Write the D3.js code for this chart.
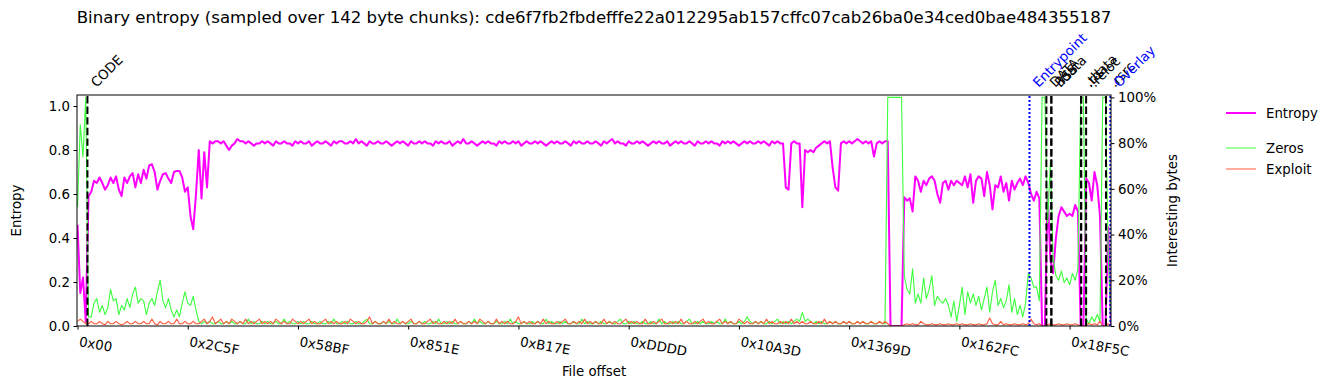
<!DOCTYPE html>
<html>
<head>
<meta charset="utf-8">
<script src="https://cdn.jsdelivr.net/npm/d3@7"></script>
<style>
  body { margin: 0; background: #fff; }
  text { font-family: "DejaVu Sans", sans-serif; }
</style>
</head>
<body>
<div id="container"></div>
<script>
/* CONSTANTS AND GLOBALS */
const width = 1335,
    height = 390,
    plotLeft = 77,
    plotRight = 1111,
    plotTop = 95,
    plotBottom = 326;

/* DATA */
const title = "Binary entropy (sampled over 142 byte chunks): cde6f7fb2fbdefffe22a012295ab157cffc07cab26ba0e34ced0bae484355187"
const fileEnd = 106500
const chunkStep = 284   // one point every two 142 byte chunks

const entropy = [
    .46, .15, .22, .02,
    .59, .61, .66, .65, .675, .65, .62, .64, .675, .65, .68, .62, .59, .675, .65, .68, .695, .63, .69, .65,
    .71, .67, .73, .735, .70, .62, .66, .69, .695, .67, .65, .70, .705, .705, .675, .61, .63, .50, .44, .60, .80, .58, .79, .63,
    .84, .83, .84, .84, .83, .84, .82, .80, .82, .83, .85, .84, .84, .83, .84, .83, .82, .83, .83, .84,
    .83, .84, .83, .82, .84, .83, .83, .84, .83, .83, .82, .84, .83, .84, .83, .83, .84, .82, .83, .84,
    .83, .83, .84, .83, .82, .84, .83, .84, .84, .83, .83, .84, .83, .85, .83, .84, .83, .82, .84, .83,
    .83, .84, .83, .83, .84, .83, .82, .83, .84, .83, .84, .83, .82, .84, .83, .83, .84, .83, .84, .83,
    .83, .82, .84, .83, .84, .83, .83, .84, .82, .83, .84, .83, .85, .83, .83, .84, .83, .82, .83, .84,
    .83, .84, .83, .83, .82, .84, .83, .84, .83, .83, .84, .83, .84, .82, .83, .84, .83, .83, .84, .83,
    .84, .83, .82, .83, .84, .83, .84, .83, .83, .84, .83, .82, .84, .83, .84, .83, .83, .84, .83, .83,
    .84, .83, .82, .84, .83, .84, .85, .83, .84, .83, .83, .82, .84, .83, .83, .84, .83, .84, .83, .82,
    .83, .84, .83, .84, .83, .83, .84, .82, .83, .84, .83, .84, .83, .83, .84, .83, .82, .84, .83, .83,
    .84, .83, .84, .83, .83, .82, .84, .83, .84, .83, .84, .83, .82, .83, .84, .83, .84, .83, .83, .84,
    .83, .84, .83, .82, .84, .83, .84, .83, .83, .63, .62, .83, .84, .83, .83, .54, .80, .79, .80, .79,
    .81, .82, .83, .84, .83, .84, .72, .63, .615, .83, .84, .83, .84, .83, .84, .85, .84, .83, .84, .83,
    .84, .77, .83, .84, .83, .84, .84, 0, 0, 0, 0, 0,
    .585, .57, .58, .52, .68, .66, .61, .66, .64, .67, .68, .66, .60, .56, .65, .66, .62, .66, .64, .66,
    .65, .64, .68, .63, .69, .56, .66, .68, .67, .59, .70, .64, .53, .64, .63, .68, .61, .65, .57, .66,
    .62, .65, .67, .64, .68, .65,
    .60, .57, .61, .58, 0, 0, .61, .30, .24, .40, .50, .54, .52, .50, .51, .50, .55, .52, 0, 0,
    .67, .65, .57, .70, .64, .50, 0, 0, .45, 0
]

const zeros = [
    .52, .88, .74, 1,
    .04, .04, .10, .12, .06, .09, .05, .08, .16, .11, .12, .05, .09, .07, .12, .08, .14, .17, .10, .12,
    .11, .05, .10, .12, .09, .15, .20, .11, .08, .12, .07, .04, .07, .04, .10, .15, .10, .09, .13, .07, .02, .01, .02, .01,
    .02, .01, .01, .02, .01, .01, .02, .01, .02, .01, .01, .02, .01, .01, .03, .01, .02, .01, .01, .02,
    .01, .02, .01, .01, .02, .01, .01, .03, .01, .02, .01, .01, .02, .01, .02, .01, .01, .02, .01, .01,
    .02, .01, .01, .02, .01, .03, .01, .01, .02, .01, .02, .01, .01, .02, .01, .01, .02, .03, .01, .01,
    .02, .01, .01, .02, .01, .02, .01, .01, .03, .01, .02, .01, .01, .02, .01, .01, .02, .01, .02, .01,
    .01, .02, .01, .03, .01, .01, .02, .01, .02, .01, .01, .02, .01, .01, .02, .01, .03, .01, .02, .01,
    .01, .02, .01, .01, .02, .01, .01, .02, .01, .03, .01, .02, .01, .01, .02, .01, .01, .02, .01, .02,
    .01, .01, .03, .01, .02, .01, .01, .02, .01, .02, .01, .01, .02, .01, .01, .03, .01, .02, .01, .01,
    .02, .01, .02, .01, .01, .02, .01, .01, .02, .03, .01, .01, .02, .01, .02, .01, .01, .02, .01, .01,
    .02, .01, .01, .03, .01, .02, .01, .01, .02, .01, .02, .01, .01, .02, .03, .01, .01, .02, .01, .02,
    .01, .01, .02, .01, .02, .01, .01, .03, .01, .02, .01, .01, .02, .01, .02, .04, .02, .01, .02, .01,
    .02, .01, .01, .02, .01, .02, .03, .01, .02, .01, .02, .01, .02, .03, .02, .06, .02, .03, .02, .01,
    .02, .01, .02, .01, .01, .02, .01, .02, .01, .01, .02, .01, .02, .01, .01, .02, .01, .02, .01, .01,
    .02, .01, .01, .02, .01, .01, 1, 1, 1, 1, 1, 1,
    .22, .16, .14, .25, .10, .14, .10, .21, .12, .16, .22, .09, .13, .11, .10, .12, .09, .04, .11, .02,
    .09, .17, .05, .15, .10, .14, .09, .13, .07, .12, .17, .06, .15, .20, .09, .12, .08, .11, .18, .06,
    .12, .05, .09, .04, .10, .23,
    .21, .17, .17, .11, 1, 1, .45, .72, .30, .22, .20, .24, .19, .21, .18, .23, .20, .25, 1, 1,
    .03, .01, .04, .02, .05, .02, 1, 1, .30, .05
]

const exploit = [
    .02, .03, .02, .01,
    .01, .02, .01, .01, .02, .01, .005, .02, .01, .01, .02, .01, .005, .01, .02, .01, .01, .02, .01, .01,
    .02, .01, .01, .03, .01, .005, .02, .01, .01, .02, .01, .01, .03, .01, .01, .02, .01, .01, .02, .01, .01, .02, .03, .01,
    .02, .04, .01, .02, .03, .01, .02, .01, .03, .02, .01, .02, .01, .03, .01, .02, .01, .02, .03, .01,
    .02, .01, .02, .01, .03, .02, .01, .02, .01, .01, .03, .02, .01, .02, .01, .02, .03, .01, .02, .01,
    .01, .02, .03, .01, .02, .01, .02, .01, .01, .02, .01, .03, .02, .01, .02, .01, .01, .02, .04, .01,
    .02, .01, .01, .02, .01, .03, .01, .02, .01, .01, .02, .01, .02, .03, .01, .01, .02, .01, .01, .02,
    .03, .01, .02, .01, .01, .02, .01, .02, .01, .03, .01, .02, .01, .01, .02, .01, .02, .01, .03, .02,
    .01, .02, .01, .01, .03, .01, .02, .01, .02, .01, .01, .02, .04, .01, .02, .01, .02, .01, .01, .02,
    .01, .03, .01, .02, .01, .01, .02, .01, .02, .03, .01, .01, .02, .01, .02, .01, .03, .01, .02, .01,
    .02, .01, .01, .03, .01, .02, .01, .02, .01, .01, .02, .03, .01, .02, .01, .02, .01, .01, .03, .01,
    .01, .02, .01, .02, .03, .01, .01, .02, .01, .02, .01, .03, .01, .02, .01, .01, .02, .01, .02, .03,
    .01, .02, .01, .01, .02, .03, .01, .02, .01, .02, .01, .01, .03, .02, .01, .02, .01, .01, .02, .01,
    .02, .01, .03, .01, .02, .01, .01, .02, .01, .02, .01, .03, .01, .02, .01, .02, .01, .01, .02, .01,
    .01, .02, .01, .03, .01, .02, .01, .02, .01, .01, .02, .01, .02, .01, .01, .02, .01, .02, .01, .01,
    .02, .01, .01, .02, .01, .02, .01, 0, 0, 0, 0, 0,
    .005, .01, .005, .01, .005, .005, .02, .01, .005, .005, .01, .005, .005, .01, .005, .005, .01, .005, .005, .01,
    .005, .01, .005, .005, .01, .005, .005, .01, .005, .005, .01, .035, .01, .005, .005, .02, .005, .01, .005, .005,
    .01, .005, .005, .01, .005, .01,
    .03, .01, .005, .01, 0, 0, .005, .01, .005, .005, .01, .005, .005, .01, .005, .005, .01, .005, 0, 0,
    .005, .01, .005, .01, .005, .02, 0, 0, .01, 0
]

// section starts (dashed black) and markers (dotted blue)
const sectionNames = ["CODE", "DATA", "BSS", ".idata", ".tls", ".rdata", ".reloc", ".rsrc"]
const sectionOffsets = [0x400, 0x18600, 0x18800, 0x18800, 0x19400, 0x19400, 0x19600, 0x19E00]
const markerNames = ["Entrypoint", "Overlay"]
const markerOffsets = [0x17F34, 0x19FC0]

const offsetTicks = [0x0, 0x2C5F, 0x58BF, 0x851E, 0xB17E, 0xDDDD, 0x10A3D, 0x1369D, 0x162FC, 0x18F5C]
const entropyTicks = [0, 0.2, 0.4, 0.6, 0.8, 1.0]
const percentTicks = [0, 0.2, 0.4, 0.6, 0.8, 1.0]

const legendNames = ["Entropy", "Zeros", "Exploit"]

/* COLORS */
const entropyColor = "#ff00ff",
    zerosColor = "#3cff3c",
    exploitColor = "#ff5a3c";

/* SVG */
const svg = d3.select("#container")
    .append("svg")
    .attr("width", width)
    .attr("height", height)
    .style("background-color", "white")

svg.append("defs").append("clipPath")
    .attr("id", "plotclip")
    .append("rect")
    .attr("x", plotLeft)
    .attr("y", plotTop)
    .attr("width", plotRight - plotLeft)
    .attr("height", plotBottom - plotTop)

// SCALES
const xScale = d3.scaleLinear()
    .domain([0, fileEnd])
    .range([plotLeft + 0.5, plotRight])

const yScale = d3.scaleLinear()
    .domain([0, 1.05])
    .range([plotBottom, plotTop])

const y2Scale = d3.scaleLinear()
    .domain([0, 1.0105])
    .range([plotBottom, plotTop])

// LINES
const plot = svg.append("g").attr("clip-path", "url(#plotclip)")

const entropyLine = d3.line()
    .x((d, i) => xScale(i * chunkStep))
    .y(d => yScale(d))

const rightLine = d3.line()
    .x((d, i) => xScale(i * chunkStep))
    .y(d => y2Scale(d))

plot.append("path")
    .datum(entropy)
    .attr("d", entropyLine)
    .attr("fill", "none")
    .attr("stroke", entropyColor)
    .attr("stroke-width", 2)
    .attr("stroke-linejoin", "round")

plot.append("path")
    .datum(zeros)
    .attr("d", rightLine)
    .attr("fill", "none")
    .attr("stroke", zerosColor)
    .attr("stroke-width", 1.1)
    .attr("stroke-linejoin", "round")

plot.append("path")
    .datum(exploit)
    .attr("d", rightLine)
    .attr("fill", "none")
    .attr("stroke", exploitColor)
    .attr("stroke-width", 1.1)
    .attr("stroke-linejoin", "round")

// SECTION LINES
plot.selectAll("line.section")
    .data(sectionOffsets)
    .join("line")
    .attr("class", "section")
    .attr("x1", d => xScale(d))
    .attr("x2", d => xScale(d))
    .attr("y1", plotBottom)
    .attr("y2", plotTop)
    .attr("stroke", "black")
    .attr("stroke-width", 2)
    .attr("stroke-dasharray", "7.4,3.2")

plot.selectAll("line.marker")
    .data(markerOffsets)
    .join("line")
    .attr("class", "marker")
    .attr("x1", d => xScale(d))
    .attr("x2", d => xScale(d))
    .attr("y1", plotBottom)
    .attr("y2", plotTop)
    .attr("stroke", "blue")
    .attr("stroke-width", 2)
    .attr("stroke-dasharray", "2,2")

// SECTION LABELS
svg.selectAll("text.section")
    .data(sectionNames)
    .join("text")
    .attr("class", "section")
    .attr("transform", (d, i) => "translate(" + (xScale(sectionOffsets[i]) + 9) + ",88) rotate(-45)")
    .style("font-size", "13.33px")
    .attr("fill", "black")
    .text(d => d)

svg.selectAll("text.marker")
    .data(markerNames)
    .join("text")
    .attr("class", "marker")
    .attr("transform", (d, i) => "translate(" + (xScale(markerOffsets[i]) + 9) + ",88) rotate(-45)")
    .style("font-size", "13.33px")
    .attr("fill", "blue")
    .text(d => d)

// FRAME
svg.append("rect")
    .attr("x", plotLeft)
    .attr("y", plotTop)
    .attr("width", plotRight - plotLeft)
    .attr("height", plotBottom - plotTop)
    .attr("fill", "none")
    .attr("stroke", "black")
    .attr("stroke-width", 1)

// AXES
const xAxis = svg.append("g")
    .attr("transform", "translate(0," + plotBottom + ")")
    .call(d3.axisBottom(xScale).tickValues(offsetTicks).tickSize(3.5).tickFormat(""))
xAxis.select(".domain").remove()

svg.selectAll("text.xtick")
    .data(offsetTicks)
    .join("text")
    .attr("class", "xtick")
    .attr("transform", d => "translate(" + (xScale(d) + 1) + ",346) rotate(10)")
    .style("font-size", "13.33px")
    .text(d => "0x" + d.toString(16).toUpperCase().padStart(2, "0"))

const yAxis = svg.append("g")
    .attr("transform", "translate(" + plotLeft + ",0)")
    .call(d3.axisLeft(yScale).tickValues(entropyTicks).tickSize(3.5).tickPadding(3.5).tickFormat(d3.format(".1f")))
yAxis.select(".domain").remove()

const y2Axis = svg.append("g")
    .attr("transform", "translate(" + plotRight + ",0)")
    .call(d3.axisRight(y2Scale).tickValues(percentTicks).tickSize(3.5).tickPadding(3.5).tickFormat(d3.format(".0%")))
y2Axis.select(".domain").remove()

svg.selectAll(".tick text")
    .style("font-size", "13.33px")
    .style("font-family", "DejaVu Sans")
    .attr("fill", "black")

// LABELS
svg.append("text")
    .attr("x", (plotLeft + plotRight) / 2)
    .attr("y", 23)
    .attr("text-anchor", "middle")
    .style("font-size", "16.6px")
    .text(title)

svg.append("text")
    .attr("x", (plotLeft + plotRight) / 2)
    .attr("y", 376)
    .attr("text-anchor", "middle")
    .style("font-size", "13.33px")
    .text("File offset")

svg.append("text")
    .attr("transform", "translate(21," + (plotTop + plotBottom) / 2 + ") rotate(-90)")
    .attr("text-anchor", "middle")
    .style("font-size", "13.33px")
    .text("Entropy")

svg.append("text")
    .attr("transform", "translate(1177," + (plotTop + plotBottom) / 2 + ") rotate(-90)")
    .attr("text-anchor", "middle")
    .style("font-size", "13.33px")
    .text("Interesting bytes")

// LEGEND
const legendColors = [entropyColor, zerosColor, exploitColor]
const legendWidths = [2, 1, 1]
const legendY = [113, 148, 169]

const legend = svg.append("g")
legend.selectAll("line")
    .data(legendNames)
    .join("line")
    .attr("x1", 1226)
    .attr("x2", 1256)
    .attr("y1", (d, i) => legendY[i])
    .attr("y2", (d, i) => legendY[i])
    .attr("stroke", (d, i) => legendColors[i])
    .attr("stroke-width", (d, i) => legendWidths[i])

legend.selectAll("text")
    .data(legendNames)
    .join("text")
    .attr("x", 1266)
    .attr("y", (d, i) => legendY[i] + 5)
    .style("font-size", "13.33px")
    .text(d => d)
</script>
</body>
</html>
